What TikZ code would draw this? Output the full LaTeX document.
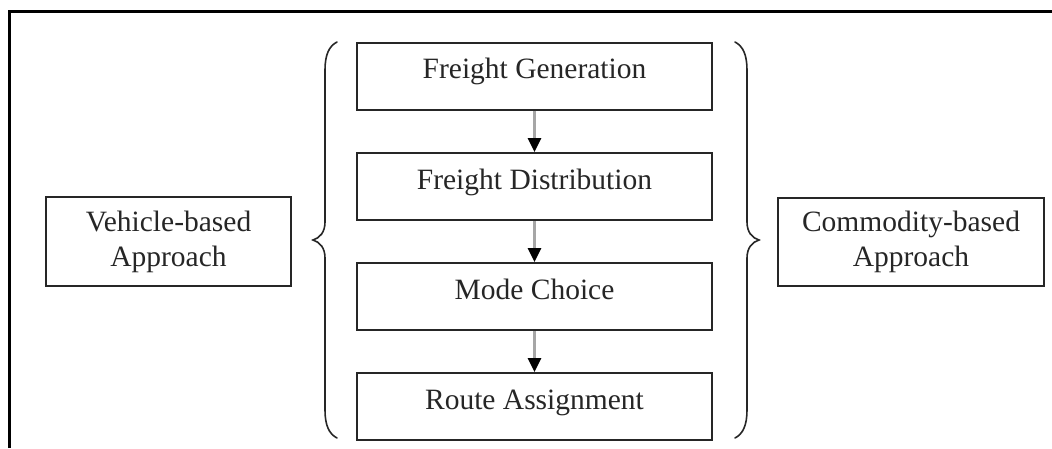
\documentclass[tikz,border=0pt]{standalone}
\usepackage{fontspec}
\setmainfont{Liberation Serif}
\usetikzlibrary{arrows.meta}
\begin{document}
\begin{tikzpicture}[x=1pt,y=-1pt,
  every node/.style={font=\fontsize{29.5}{35}\selectfont, text=black!85},
  stagebox/.style={draw=black!85, line width=2pt, minimum width=355pt,
    minimum height=67pt, inner ysep=0pt, text height=36pt, text depth=31pt},
  sidebox/.style={draw=black!85, line width=2pt, align=center, inner sep=0pt},
  flow/.style={draw=black!35, line width=3pt,
    -{Triangle[length=14pt,width=13pt,color=black,fill=black]}},
  bracepath/.style={draw=black!85, line width=1.6pt, line cap=round}]
  \useasboundingbox (0,0) rectangle (1052,448);

  % outer frame (top and left edges)
  \draw[line width=3pt] (9,448) -- (9,11) -- (1052,11);

  % modelling stages
  \node[stagebox] (gen)  at (534.5,76)    {Freight Generation};
  \node[stagebox] (dist) at (534.5,186.5) {Freight Distribution};
  \node[stagebox] (mode) at (534.5,296.5) {Mode Choice};
  \node[stagebox] (route) at (534.5,406.5) {Route Assignment};

  \draw[flow] (gen.south) -- (dist.north);
  \draw[flow] (dist.south) -- (mode.north);
  \draw[flow] (mode.south) -- (route.north);

  % approaches
  \node[sidebox, minimum width=245pt, minimum height=89pt] (veh) at (168.5,241.5)
    {Vehicle-based\\Approach};
  \node[sidebox, minimum width=266pt, minimum height=88pt] (com) at (911,242)
    {Commodity-based\\Approach};

  % left brace
  \draw[bracepath] (337,42) .. controls (329,46) and (325,55) .. (325,70)
    -- (325,222) .. controls (325,232) and (320,238) .. (313,240)
    .. controls (320,242) and (325,248) .. (325,258)
    -- (325,410) .. controls (325,425) and (329,434) .. (337,438);
  % right brace
  \draw[bracepath] (735,42) .. controls (743,46) and (747,55) .. (747,70)
    -- (747,222) .. controls (747,232) and (752,238) .. (759,240)
    .. controls (752,242) and (747,248) .. (747,258)
    -- (747,410) .. controls (747,425) and (743,434) .. (735,438);
\end{tikzpicture}
\end{document}
